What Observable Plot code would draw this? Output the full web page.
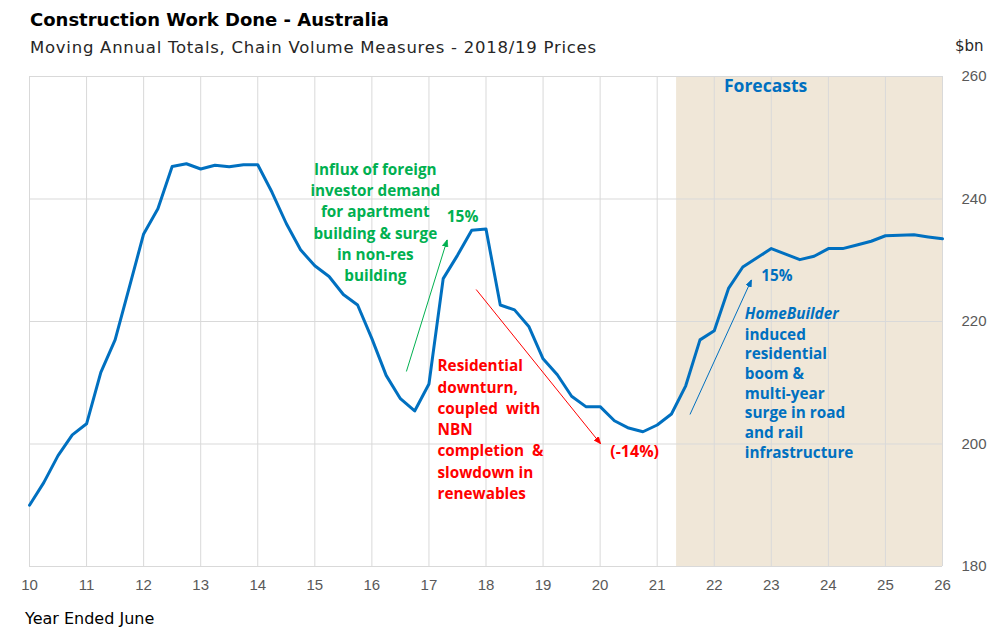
<!DOCTYPE html>
<html>
<head>
<meta charset="utf-8">
<script src="https://cdn.jsdelivr.net/npm/d3@7"></script>
<script src="https://cdn.jsdelivr.net/npm/@observablehq/plot@0.6"></script>
<style>
  body { margin: 0; background: #fff; }
  #chart { position: relative; width: 1003px; height: 644px; overflow: hidden; background: #fff; }
  #chart svg { position: absolute; left: 0; top: 0; }
  .lbl { position: absolute; white-space: nowrap; font-family: "DejaVu Sans", sans-serif; line-height: 1; }
  #title { left: 30px; top: 11.4px; font-size: 18px; font-weight: bold; color: #000; }
  #subtitle { left: 30px; top: 39.5px; font-size: 16.5px; letter-spacing: 0.75px; color: #262626; }
  #unit { left: 955px; top: 39px; font-size: 15px; color: #262626; }
  #xlabel { left: 25px; top: 610.5px; font-size: 16px; color: #000; }
</style>
</head>
<body>
<div id="chart">
  <div class="lbl" id="title">Construction Work Done - Australia</div>
  <div class="lbl" id="subtitle">Moving Annual Totals, Chain Volume Measures - 2018/19 Prices</div>
  <div class="lbl" id="unit">$bn</div>
  <div class="lbl" id="xlabel">Year Ended June</div>
</div>
<script>
// Year ended June (quarterly steps), moving annual totals in $bn
const yearEnded = [
  10, 10.25, 10.5, 10.75, 11, 11.25, 11.5, 11.75,
  12, 12.25, 12.5, 12.75, 13, 13.25, 13.5, 13.75,
  14, 14.25, 14.5, 14.75, 15, 15.25, 15.5, 15.75,
  16, 16.25, 16.5, 16.75, 17, 17.25, 17.5, 17.75,
  18, 18.25, 18.5, 18.75, 19, 19.25, 19.5, 19.75,
  20, 20.25, 20.5, 20.75, 21, 21.25, 21.5, 21.75,
  22, 22.25, 22.5, 22.75, 23, 23.25, 23.5, 23.75,
  24, 24.25, 24.5, 24.75, 25, 25.25, 25.5, 25.75,
  26
];
const workDone = [
  190.0, 193.7, 198.1, 201.5, 203.3, 211.7, 217.0, 225.6,
  234.3, 238.4, 245.3, 245.75, 244.9, 245.5, 245.25, 245.6,
  245.6, 241.1, 236.0, 231.7, 229.1, 227.35, 224.4, 222.7,
  217.2, 211.2, 207.4, 205.4, 209.8, 227.0, 230.8, 234.9,
  235.1, 222.7, 221.9, 219.2, 213.9, 211.3, 207.8, 206.1,
  206.1, 203.8, 202.6, 202.0, 203.1, 204.9, 209.5, 217.0,
  218.5, 225.4, 228.9, 230.4, 231.9, 231.0, 230.1, 230.65,
  231.9, 231.9, 232.5, 233.1, 234.0, 234.1, 234.15, 233.8,
  233.5
];
const xTicks = [10, 11, 12, 13, 14, 15, 16, 17, 18, 19, 20, 21, 22, 23, 24, 25, 26];
const yTicks = [180, 200, 220, 240, 260];
const forecastFrom = 21.34;
const forecastTo = 26;

const greenNote = ["Influx of foreign", "investor demand", "for apartment", "building & surge", "in non-res", "building"];
const redNote = ["Residential", "downturn,", "coupled  with", "NBN", "completion  &", "slowdown in", "renewables"];
const blueLead = "HomeBuilder";
const blueNote = ["induced", "residential", "boom &", "multi-year", "surge in road", "and rail", "infrastructure"];

const series = yearEnded.map((t, i) => ({t, v: workDone[i]}));

// filled triangular arrow head
function filledArrow(color, context) {
  const doc = (context && context.document) || document;
  const ns = "http://www.w3.org/2000/svg";
  const m = doc.createElementNS(ns, "marker");
  m.setAttribute("viewBox", "-10 -5 10 10");
  m.setAttribute("markerWidth", 7);
  m.setAttribute("markerHeight", 7);
  m.setAttribute("markerUnits", "userSpaceOnUse");
  m.setAttribute("refX", 0);
  m.setAttribute("refY", 0);
  m.setAttribute("orient", "auto");
  const p = doc.createElementNS(ns, "path");
  p.setAttribute("d", "M-10,-4L0,0L-10,4Z");
  p.setAttribute("fill", color);
  m.appendChild(p);
  m.node = () => m;
  return m;
}

const noteFont = "'Open Sans', sans-serif";
const green = "#00B050";
const red = "#FF0000";
const blue = "#0070C0";

const chart = Plot.plot({
  width: 1003,
  height: 644,
  marginLeft: 29,
  marginRight: 61,
  marginTop: 76,
  marginBottom: 78,
  style: {fontFamily: "'Liberation Sans', sans-serif", fontSize: "15px", color: "#595959", background: "transparent", overflow: "visible"},
  x: {domain: [10, 26]},
  y: {domain: [180, 260]},
  marks: [
    Plot.rect([{a: forecastFrom, b: forecastTo}], {x1: "a", x2: "b", y1: 180, y2: 260, fill: "#F0E7D8"}),
    Plot.gridX(xTicks, {stroke: "#D9D9D9", strokeOpacity: 1, strokeWidth: 1}),
    Plot.gridY(yTicks, {stroke: "#D9D9D9", strokeOpacity: 1, strokeWidth: 1}),
    Plot.axisX(xTicks, {tickSize: 0, tickPadding: 13, tickFormat: d => String(d)}),
    Plot.axisY(yTicks, {anchor: "right", tickSize: 0, tickPadding: 19, tickFormat: d => String(d)}),
    Plot.line(series, {x: "t", y: "v", stroke: blue, strokeWidth: 3, strokeLinejoin: "round"}),

    // arrows
    Plot.link([{x1: 16.605, y1: 211.84, x2: 17.32, y2: 233.34}], {x1: "x1", y1: "y1", x2: "x2", y2: "y2", stroke: green, strokeWidth: 1, markerEnd: filledArrow}),
    Plot.link([{x1: 17.828, y1: 225.22, x2: 20.009, y2: 200.03}], {x1: "x1", y1: "y1", x2: "x2", y2: "y2", stroke: red, strokeWidth: 1, markerEnd: filledArrow}),
    Plot.link([{x1: 21.575, y1: 204.82, x2: 22.653, y2: 226.81}], {x1: "x1", y1: "y1", x2: "x2", y2: "y2", stroke: blue, strokeWidth: 1, markerEnd: filledArrow}),

    // annotations
    Plot.text([greenNote.join("\n")], {x: 16.06, y: 236.36, text: d => d, fill: green, fontFamily: noteFont, fontWeight: "bold", fontSize: 15.3, lineHeight: 21.2 / 15.3, textAnchor: "middle", lineAnchor: "middle"}),
    Plot.text(["15%"], {x: 17.59, y: 237.0, text: d => d, fill: green, fontFamily: noteFont, fontWeight: "bold", fontSize: 15.5, textAnchor: "middle", lineAnchor: "middle"}),
    Plot.text([redNote.join("\n")], {x: 17.15, y: 202.55, text: d => d, fill: red, fontFamily: noteFont, fontWeight: "bold", fontSize: 15.3, lineHeight: 21.3 / 15.3, textAnchor: "start", lineAnchor: "middle"}),
    Plot.text(["(-14%)"], {x: 20.605, y: 198.78, text: d => d, fill: red, fontFamily: noteFont, fontWeight: "bold", fontSize: 16, textAnchor: "middle", lineAnchor: "middle"}),
    Plot.text(["Forecasts"], {x: 22.9, y: 258.4, text: d => d, fill: blue, fontFamily: noteFont, fontWeight: "bold", fontSize: 17.5, textAnchor: "middle", lineAnchor: "middle"}),
    Plot.text(["15%"], {x: 23.096, y: 227.35, text: d => d, fill: blue, fontFamily: noteFont, fontWeight: "bold", fontSize: 15.3, textAnchor: "middle", lineAnchor: "middle"}),
    Plot.text([blueLead], {x: 22.535, y: 221.26, text: d => d, fill: blue, fontFamily: noteFont, fontWeight: "bold", fontStyle: "italic", fontSize: 15.3, textAnchor: "start", lineAnchor: "middle"}),
    Plot.text([blueNote.join("\n")], {x: 22.535, y: 208.45, text: d => d, fill: blue, fontFamily: noteFont, fontWeight: "bold", fontSize: 15.3, lineHeight: 19.67 / 15.3, textAnchor: "start", lineAnchor: "middle"})
  ]
});

document.getElementById("chart").prepend(chart);
</script>
</body>
</html>
